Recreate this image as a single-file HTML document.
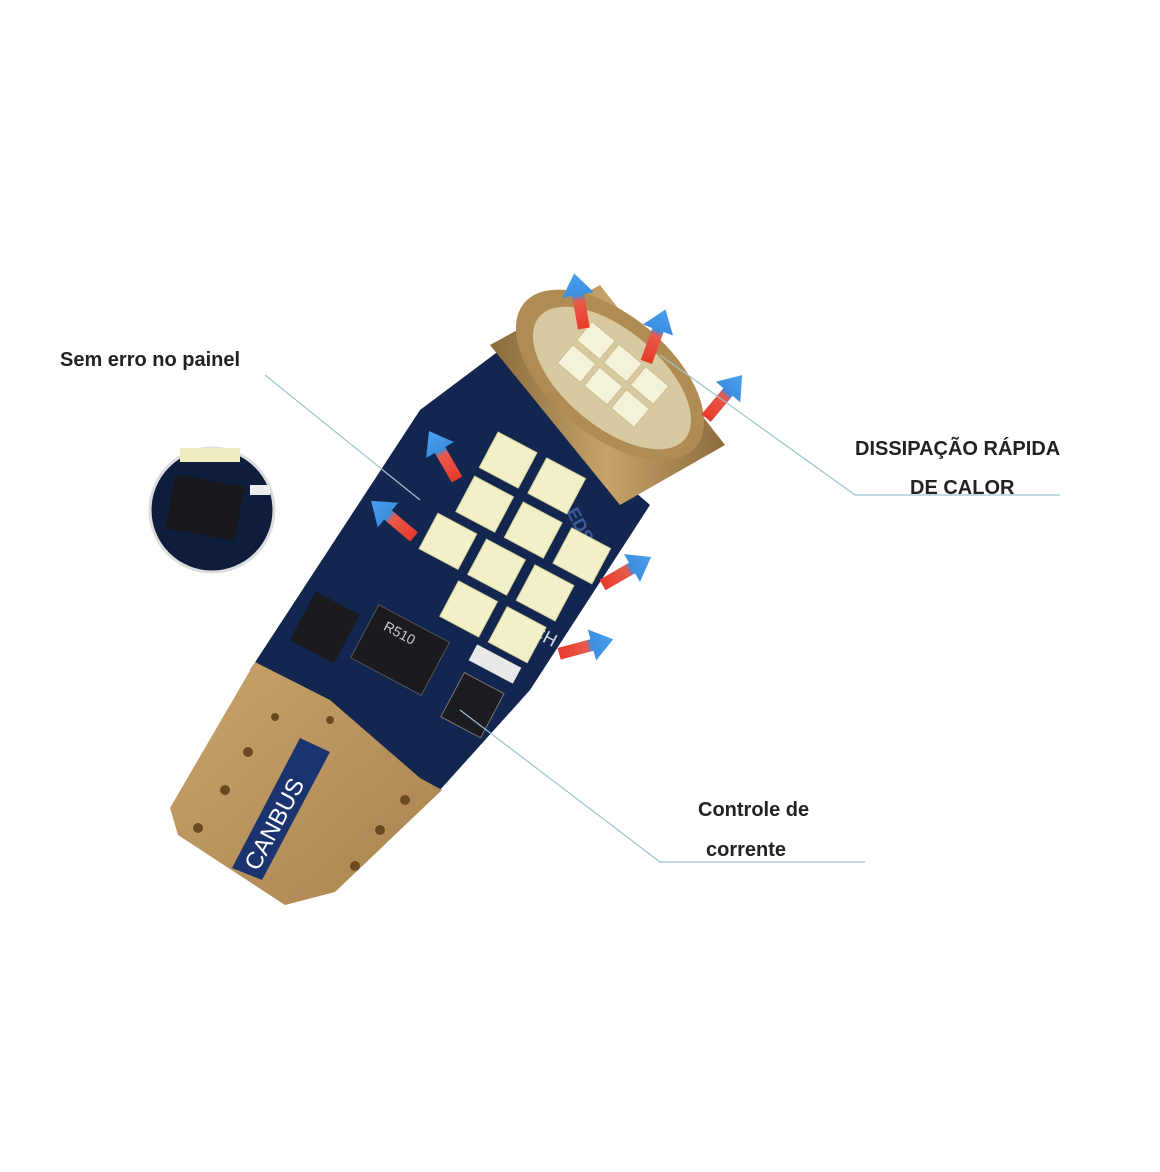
<!DOCTYPE html>
<html><head><meta charset="utf-8"><style>
html,body{margin:0;padding:0;background:#fff;}
svg{display:block}
text{font-family:"Liberation Sans",sans-serif;fill:#222;}
</style></head><body>
<svg width="1160" height="1172" viewBox="0 0 1160 1172" xmlns="http://www.w3.org/2000/svg">
<defs>
<linearGradient id="gold" x1="0" y1="0" x2="1" y2="1">
<stop offset="0" stop-color="#c9a46a"/><stop offset="1" stop-color="#a88350"/></linearGradient>
<linearGradient id="cap" x1="0" y1="0" x2="1" y2="0">
<stop offset="0" stop-color="#8a6a3a"/><stop offset=".5" stop-color="#c6a36a"/><stop offset="1" stop-color="#8d6b3c"/></linearGradient>
<linearGradient id="arr" x1="0" y1="1" x2="0" y2="0">
<stop offset="0" stop-color="#e83a2a"/><stop offset=".5" stop-color="#e85a4a"/><stop offset=".6" stop-color="#3c8ee0"/><stop offset="1" stop-color="#4aa0f0"/></linearGradient>
<g id="ar"><path d="M-6,34 L-6,0 L-16,0 L0,-22 L16,0 L6,0 L6,34 Z" fill="url(#arr)"/></g>
</defs>
<rect width="1160" height="1172" fill="#fff"/>

<polygon points="250,670 420,410 500,350 610,470 650,505 530,690 440,790 310,720" fill="#13264f"/>
<polygon points="255,662 170,808 178,835 285,905 335,892 442,790 420,778 330,700" fill="url(#gold)"/>
<polygon points="300,738 330,752 262,880 232,868" fill="#1b3470"/>
<text x="0" y="0" transform="translate(258,872) rotate(-62)" font-size="24" style="fill:#fff">CANBUS</text>
<g fill="#6b4a22">
<circle cx="198" cy="828" r="5"/><circle cx="225" cy="790" r="5"/><circle cx="248" cy="752" r="5"/>
<circle cx="355" cy="866" r="5"/><circle cx="380" cy="830" r="5"/><circle cx="405" cy="800" r="5"/>
<circle cx="275" cy="717" r="4"/><circle cx="330" cy="720" r="4"/>
</g>
<g transform="rotate(28 400 650)">
<rect x="360" y="620" width="80" height="60" fill="#1a1a1f" stroke="#555"/>
<text x="375" y="640" font-size="14" style="fill:#ccc">R510</text>
</g>
<rect x="300" y="600" width="50" height="55" fill="#1a1a1f" transform="rotate(28 325 627)"/>
<rect x="450" y="680" width="45" height="50" fill="#1c1c20" stroke="#777" transform="rotate(28 472 705)"/>
<rect x="470" y="655" width="50" height="18" fill="#e8e8e8" transform="rotate(28 495 664)"/>
<text x="0" y="0" transform="translate(530,635) rotate(28)" font-size="18" style="fill:#ddd">CH</text>
<text x="0" y="0" transform="translate(545,472) rotate(62)" font-size="18" font-weight="bold" style="fill:#3d5a9a">KIT LEDS</text>

<g fill="#f2f0c8" stroke="#d8d39a">
<g transform="rotate(28 520 540)">
<rect x="450" y="455" width="44" height="40"/><rect x="505" y="455" width="44" height="40"/>
<rect x="450" y="505" width="44" height="40"/><rect x="505" y="505" width="44" height="40"/><rect x="560" y="505" width="44" height="40"/>
<rect x="435" y="555" width="44" height="40"/><rect x="490" y="555" width="44" height="40"/><rect x="545" y="555" width="44" height="40"/>
<rect x="485" y="605" width="44" height="40"/><rect x="540" y="605" width="44" height="40"/>
</g>
</g>

<polygon points="490,345 600,285 725,445 620,505" fill="url(#cap)"/>
<ellipse cx="610" cy="375" rx="112" ry="60" transform="rotate(40 610 375)" fill="#b08c55"/>
<ellipse cx="612" cy="378" rx="95" ry="48" transform="rotate(40 612 378)" fill="#d9c9a0"/>
<g fill="#f4f2d8" stroke="#c9c090" transform="rotate(40 615 380)">
<rect x="560" y="350" width="30" height="24"/><rect x="595" y="350" width="30" height="24"/><rect x="630" y="350" width="30" height="24"/>
<rect x="560" y="380" width="30" height="24"/><rect x="595" y="380" width="30" height="24"/><rect x="630" y="380" width="30" height="24"/>
</g>

<use href="#ar" transform="translate(578,295) rotate(-10)"/>
<use href="#ar" transform="translate(658,330) rotate(20)"/>
<use href="#ar" transform="translate(728,392) rotate(40)"/>
<use href="#ar" transform="translate(440,450) rotate(-30)"/>
<use href="#ar" transform="translate(388,515) rotate(-50)"/>
<use href="#ar" transform="translate(632,568) rotate(60)"/>
<use href="#ar" transform="translate(592,645) rotate(75)"/>

<circle cx="212" cy="510" r="62" fill="#0f1d3d" stroke="#ddd" stroke-width="3"/>
<rect x="170" y="480" width="70" height="55" fill="#18181c" transform="rotate(10 205 507)"/>
<rect x="250" y="485" width="20" height="10" fill="#eee"/>
<rect x="180" y="448" width="60" height="14" fill="#f0eec0"/>

<g stroke="#9cc3cf" stroke-width="1.2" fill="none">
<polyline points="265,375 420,500"/>
<polyline points="660,355 855,495 1060,495"/>
<polyline points="460,710 660,862 865,862"/>
</g>

<text x="60" y="366" font-size="20" font-weight="bold">Sem erro no painel</text>
<text x="855" y="455" font-size="20" font-weight="bold">DISSIPAÇÃO RÁPIDA</text>
<text x="910" y="494" font-size="20" font-weight="bold">DE CALOR</text>
<text x="698" y="816" font-size="20" font-weight="bold">Controle de</text>
<text x="706" y="856" font-size="20" font-weight="bold">corrente</text>
</svg>
</body></html>
